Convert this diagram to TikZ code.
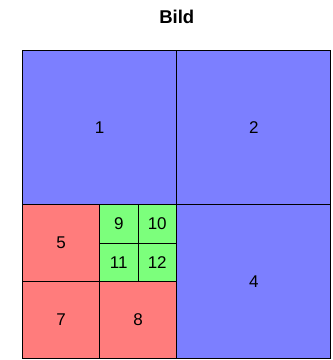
\documentclass[tikz,border=0pt]{standalone}
\usepackage{fontspec}
\setmainfont{Liberation Sans}
\definecolor{cblue}{RGB}{124,127,255}
\definecolor{cred}{RGB}{255,124,124}
\definecolor{cgreen}{RGB}{124,255,124}
\begin{document}
\begin{tikzpicture}[x=1pt,y=-1pt,
  cell/.style={draw=black,line width=0.9pt,inner sep=0pt,outer sep=0pt,
    font=\fontsize{17}{20}\selectfont},
  big/.style={cell,minimum width=154pt,minimum height=154pt,fill=cblue},
  mid/.style={cell,minimum width=77pt,minimum height=77pt,fill=cred},
  small/.style={cell,minimum width=38.5pt,minimum height=38.5pt,fill=cgreen}]
\useasboundingbox (0,0) rectangle (333,360);
\node[anchor=base,font=\fontsize{18.5}{22}\selectfont\bfseries] (title) at (176.75,23.3) {Bild};
\node[big] (c1) at (99.5,127.25) {1};
\node[big] (c2) at (253.75,127.25) {2};
\node[big] (c4) at (253.75,281.25) {4};
\node[mid] (c5) at (61,243) {5};
\node[mid] (c7) at (61,320) {7};
\node[mid] (c8) at (138,320) {8};
\node[small] (c9) at (118.75,223.75) {9};
\node[small] (c10) at (157.25,223.75) {10};
\node[small] (c11) at (118.75,262.25) {11};
\node[small] (c12) at (157.25,262.25) {12};
\end{tikzpicture}
\end{document}
